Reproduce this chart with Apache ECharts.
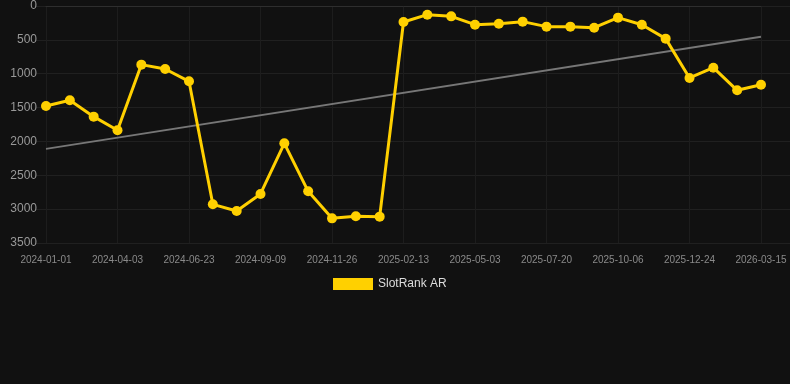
<!DOCTYPE html>
<html>
<head>
<meta charset="utf-8">
<script src="https://cdn.jsdelivr.net/npm/echarts@6/dist/echarts.min.js"></script>
<style>
html,body{margin:0;padding:0;background:#111111;}
#chart{width:790px;height:384px;}
</style>
</head>
<body>
<div id="chart"></div>
<script>
const categories = [
  '2024-01-01','2024-02-01','2024-03-03','2024-04-03','2024-04-30','2024-05-27',
  '2024-06-23','2024-07-19','2024-08-14','2024-09-09','2024-10-05','2024-10-31',
  '2024-11-26','2024-12-22','2025-01-18','2025-02-13','2025-03-11','2025-04-07',
  '2025-05-03','2025-05-29','2025-06-24','2025-07-20','2025-08-15','2025-09-10',
  '2025-10-06','2025-11-01','2025-11-27','2025-12-24','2026-01-20','2026-02-16',
  '2026-03-15'
];
const rankValues = [
  1477, 1393, 1634, 1836, 866, 930,
  1112, 2929, 3027, 2776, 2028, 2737,
  3136, 3106, 3111, 236, 128, 153,
  276, 261, 231, 305, 305, 320,
  172, 276, 482, 1063, 911, 1245,
  1162
];
const trendStart = 2110;
const trendEnd = 455;
const yTicks = [0, 500, 1000, 1500, 2000, 2500, 3000, 3500];

const trendValues = categories.map((c, i) => i === 0 ? trendStart : (i === categories.length - 1 ? trendEnd : null));

const font = "'Liberation Sans', Arial, sans-serif";
const chart = echarts.init(document.getElementById('chart'), null, {renderer: 'canvas'});
chart.setOption({
  backgroundColor: '#111111',
  animation: false,
  textStyle: {fontFamily: font},
  legend: {
    data: ['SlotRank AR'],
    top: 273,
    left: 328,
    itemWidth: 40,
    itemHeight: 12,
    icon: 'rect',
    itemGap: 6,
    textStyle: {color: '#dddddd', fontSize: 12, fontFamily: font}
  },
  grid: [
    {left: 36, right: 0, top: 6, bottom: 141, containLabel: false},
    {left: 46, right: 29, top: 6, bottom: 141, containLabel: false}
  ],
  xAxis: [
    {gridIndex: 0, type: 'value', min: 0, max: 1, show: false},
    {
      gridIndex: 1, type: 'category', data: categories, boundaryGap: false,
      axisLine: {show: true, lineStyle: {color: '#2e2e2e'}},
      axisTick: {show: false},
      axisLabel: {interval: 2, color: '#8a8a8a', fontSize: 10, margin: 12, fontFamily: font},
      splitLine: {show: true, interval: 2, lineStyle: {color: '#1d1d1d', width: 1}}
    }
  ],
  yAxis: [
    {
      gridIndex: 0, type: 'value', inverse: true, min: 0, max: 3500, interval: 500,
      axisLine: {show: false}, axisTick: {show: false}, axisLabel: {show: false},
      splitLine: {show: true, lineStyle: {color: '#202020', width: 1}}
    },
    {
      gridIndex: 1, type: 'value', inverse: true, min: 0, max: 3500, interval: 500,
      axisLine: {show: false}, axisTick: {show: false},
      axisLabel: {color: '#999999', fontSize: 12, margin: 9, fontFamily: font,
        formatter: v => yTicks.includes(v) ? String(v) : ''},
      splitLine: {show: false}
    }
  ],
  series: [
    {
      name: 'SlotRank AR', type: 'line', xAxisIndex: 1, yAxisIndex: 1,
      data: rankValues,
      color: '#FFD000',
      lineStyle: {color: '#FFD000', width: 3},
      itemStyle: {color: '#FFD000'},
      symbol: 'circle', symbolSize: 10, showSymbol: true,
      z: 3
    },
    {
      name: 'trend', type: 'line', xAxisIndex: 1, yAxisIndex: 1,
      data: trendValues, connectNulls: true,
      lineStyle: {color: '#777777', width: 2},
      itemStyle: {color: '#777777'},
      symbol: 'none', showSymbol: false,
      z: 2
    }
  ]
});
</script>
</body>
</html>
